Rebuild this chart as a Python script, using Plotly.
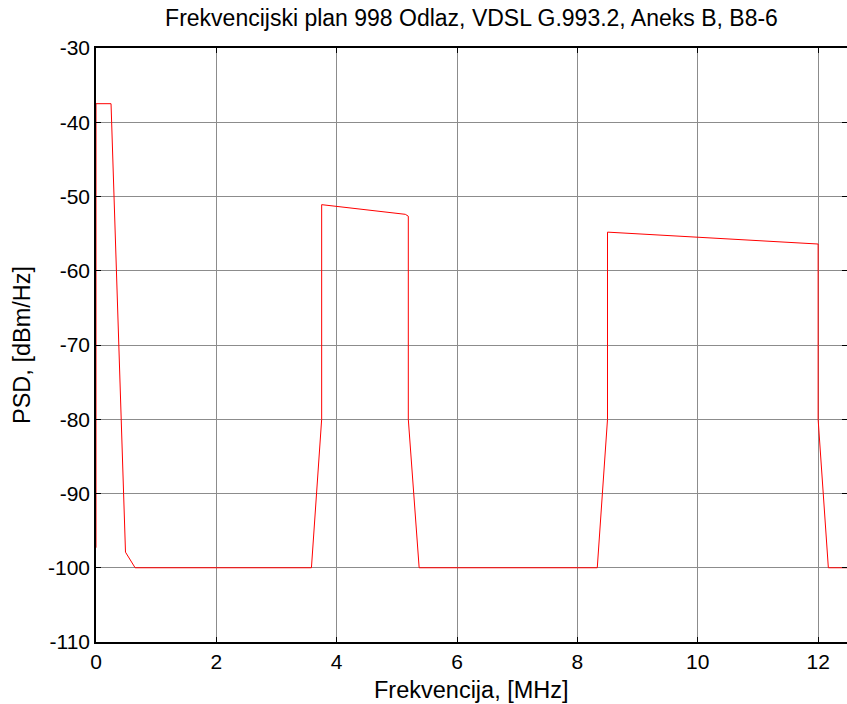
import plotly.graph_objects as go

# Frequency (MHz) and PSD mask (dBm/Hz)
freq_mhz = [0.0, 0.0, 0.25, 0.49, 0.65, 3.58, 3.75, 3.75, 5.14, 5.19, 5.19, 5.37,
            8.33, 8.5, 8.5, 12.0, 12.0, 12.17, 12.5]
psd_dbm = [-97.3, -37.5, -37.5, -97.9, -100.0, -100.0, -80.0, -51.1, -52.4, -52.65,
           -80.0, -100.0, -100.0, -80.0, -54.8, -56.4, -80.0, -100.0, -100.0]

x_ticks = [0, 2, 4, 6, 8, 10, 12]
y_ticks = [-110, -100, -90, -80, -70, -60, -50, -40, -30]

title_text = "Frekvencijski plan 998 Odlaz, VDSL G.993.2, Aneks B, B8-6"
x_title = "Frekvencija, [MHz]"
y_title = "PSD, [dBm/Hz]"

FONT = "Liberation Sans, Arial, sans-serif"
W, H = 847, 704
ML, MR, MT, MB = 96, 0, 48, 62

fig = go.Figure()
fig.add_trace(go.Scatter(x=freq_mhz, y=psd_dbm, mode="lines",
                         line=dict(color="#ff0000", width=1), showlegend=False,
                         hoverinfo="skip"))

axis_common = dict(
    showline=True, linecolor="black", linewidth=1.5, mirror="ticks",
    ticks="inside", ticklen=5, tickwidth=1, tickcolor="black",
    showgrid=True, gridcolor="#8c8c8c", gridwidth=1,
    zeroline=False, automargin=False,
    tickfont=dict(family=FONT, size=21, color="black"),
)

fig.update_layout(
    width=W, height=H, autosize=False,
    margin=dict(l=ML, r=MR, t=MT, b=MB),
    paper_bgcolor="white", plot_bgcolor="white",
    font=dict(family=FONT, color="black"),
    title=dict(text=title_text, xref="paper", x=0.5, xanchor="center",
               yref="container", y=1 - 18 / H, yanchor="middle",
               font=dict(family=FONT, size=23, color="black")),
    xaxis=dict(range=[0, 12.48], tickvals=x_ticks, ticktext=[str(v) for v in x_ticks],
               **axis_common),
    yaxis=dict(range=[-110, -30], tickvals=y_ticks, ticktext=[str(v) for v in y_ticks],
               **axis_common),
    annotations=[
        dict(text=x_title, xref="paper", x=0.5, xanchor="center",
             yref="paper", y=-(690 - (H - MB)) / (H - MT - MB), yanchor="middle",
             showarrow=False, font=dict(family=FONT, size=23.5, color="black")),
        dict(text=y_title, textangle=-90, xref="paper", x=-(ML - 22) / (W - ML - MR),
             xanchor="center", yref="paper", y=0.5, yanchor="middle",
             showarrow=False, font=dict(family=FONT, size=23.5, color="black")),
    ],
)

post = (
    "document.documentElement.style.margin='0';"
    "document.body.style.margin='0';document.body.style.padding='0';"
    "document.body.style.overflow='hidden';"
    "var gd=document.getElementById('{plot_id}');"
    "Plotly.relayout(gd,{width:%d,height:%d});" % (W, H)
)

fig.write_html("out.html", config={"responsive": False, "displayModeBar": False},
               post_script=post)
